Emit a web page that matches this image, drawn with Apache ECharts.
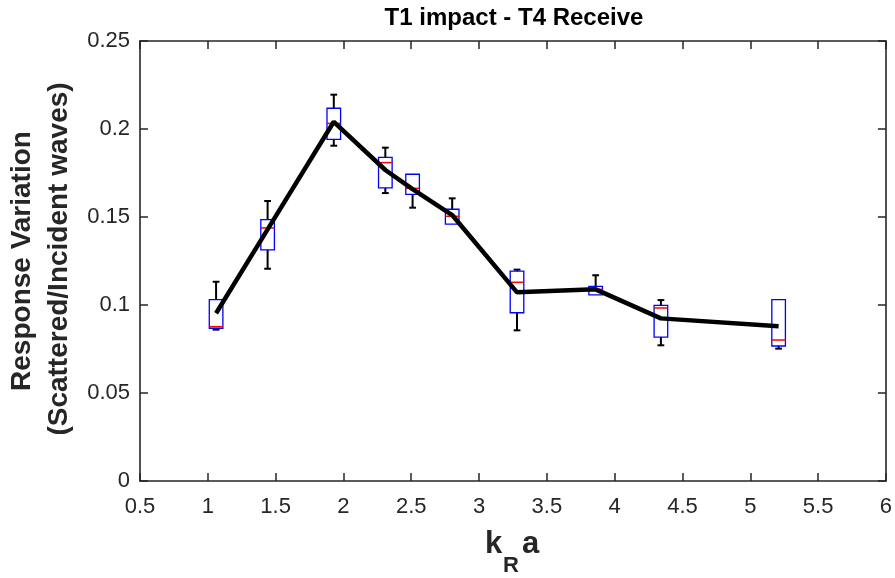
<!DOCTYPE html>
<html>
<head>
<meta charset="utf-8">
<script src="https://cdn.jsdelivr.net/npm/echarts@6/dist/echarts.min.js"></script>
<style>html,body{margin:0;padding:0;background:#fff}#c{width:895px;height:578px}</style>
</head>
<body>
<div id="c"></div>
<script>
// k_R a positions of each box
const kra       = [1.061, 1.441, 1.929, 2.309, 2.510, 2.802, 3.280, 3.860, 4.341, 5.209];
const whiskLow  = [0.0860, 0.1206, 0.1905, 0.1636, 0.1553, 0.1459, 0.0856, 0.1057, 0.0771, 0.0752];
const q1        = [0.0868, 0.1313, 0.1941, 0.1665, 0.1629, 0.1459, 0.0956, 0.1057, 0.0818, 0.0767];
const median    = [0.0877, 0.1438, 0.2032, 0.1809, 0.1663, 0.1504, 0.1129, 0.1089, 0.0983, 0.0801];
const q3        = [0.1030, 0.1485, 0.2118, 0.1839, 0.1743, 0.1544, 0.1192, 0.1106, 0.0998, 0.1030];
const whiskHigh = [0.1132, 0.1591, 0.2195, 0.1894, 0.1743, 0.1606, 0.1201, 0.1169, 0.1028, 0.1030];
const meanLine  = [0.0953, 0.1430, 0.2041, 0.1767, 0.1658, 0.1511, 0.1072, 0.1089, 0.0924, 0.0879];

const xTicks = {min: 0.5, max: 6, interval: 0.5};
const yTicks = {min: 0, max: 0.25, interval: 0.05};

const FONT = "'Liberation Sans', Arial, Helvetica, sans-serif";
const AX = '#262626';

const boxData = kra.map((x, i) => [x, whiskLow[i], q1[i], median[i], q3[i], whiskHigh[i]]);
const lineData = kra.map((x, i) => [x, meanLine[i]]);

function renderBox(params, api) {
  const x = api.value(0);
  const lo = api.coord([x, api.value(1)]);
  const b1 = api.coord([x, api.value(2)]);
  const md = api.coord([x, api.value(3)]);
  const b3 = api.coord([x, api.value(4)]);
  const hi = api.coord([x, api.value(5)]);
  const cx = b1[0];
  const hw = 6.8, cw = 3.4;
  const wStyle = {stroke: '#000', lineWidth: 2};
  const ch = [];
  if (hi[1] < b3[1] - 0.5) {
    ch.push({type: 'line', shape: {x1: cx, y1: b3[1], x2: cx, y2: hi[1]}, style: wStyle});
    ch.push({type: 'line', shape: {x1: cx - cw, y1: hi[1], x2: cx + cw, y2: hi[1]}, style: wStyle});
  }
  if (lo[1] > b1[1] + 0.5) {
    ch.push({type: 'line', shape: {x1: cx, y1: b1[1], x2: cx, y2: lo[1]}, style: wStyle});
    ch.push({type: 'line', shape: {x1: cx - cw, y1: lo[1], x2: cx + cw, y2: lo[1]}, style: wStyle});
  }
  ch.push({type: 'rect', shape: {x: cx - hw, y: b3[1], width: 2 * hw, height: b1[1] - b3[1]},
           style: {fill: 'none', stroke: '#0000ff', lineWidth: 1.3}});
  ch.push({type: 'line', shape: {x1: cx - hw, y1: md[1], x2: cx + hw, y2: md[1]},
           style: {stroke: '#ff0000', lineWidth: 1.5}});
  return {type: 'group', children: ch};
}

const axisCommon = {
  axisLine: {show: true, onZero: false, lineStyle: {color: AX, width: 1.6}},
  axisTick: {show: true, inside: true, length: 8, lineStyle: {color: AX, width: 1.5}},
  splitLine: {show: false}
};

const chart = echarts.init(document.getElementById('c'), null, {renderer: 'canvas'});
chart.setOption({
  animation: false,
  backgroundColor: '#fff',
  grid: {left: 140, right: 4, top: 41, bottom: 97, containLabel: false},
  xAxis: [
    Object.assign({type: 'value', position: 'bottom', min: xTicks.min, max: xTicks.max, interval: xTicks.interval,
      axisLabel: {color: AX, fontSize: 22, fontFamily: FONT, margin: 15}}, axisCommon),
    Object.assign({type: 'value', position: 'top', min: xTicks.min, max: xTicks.max, interval: xTicks.interval,
      axisLabel: {show: false}}, axisCommon)
  ],
  yAxis: [
    Object.assign({type: 'value', position: 'left', min: yTicks.min, max: yTicks.max, interval: yTicks.interval,
      axisLabel: {color: AX, fontSize: 22, fontFamily: FONT, margin: 10}}, axisCommon),
    Object.assign({type: 'value', position: 'right', min: yTicks.min, max: yTicks.max, interval: yTicks.interval,
      axisLabel: {show: false}}, axisCommon)
  ],
  graphic: [
    {type: 'text', x: 514, y: 18,
     style: {text: 'T1 impact - T4 Receive', font: 'bold 24px ' + FONT, fill: '#000',
             textAlign: 'center', textVerticalAlign: 'middle'}},
    {type: 'text', x: 22, y: 261, rotation: Math.PI / 2,
     style: {text: 'Response Variation', font: 'bold 28px ' + FONT, fill: AX,
             textAlign: 'center', textVerticalAlign: 'middle'}},
    {type: 'text', x: 59, y: 259, rotation: Math.PI / 2,
     style: {text: '(Scattered/Incident waves)', font: 'bold 28px ' + FONT, fill: AX,
             textAlign: 'center', textVerticalAlign: 'middle'}},
    {type: 'text', x: 485, y: 544,
     style: {text: 'k', font: 'bold 31px ' + FONT, fill: AX, textAlign: 'left', textVerticalAlign: 'middle'}},
    {type: 'text', x: 503, y: 566,
     style: {text: 'R', font: 'bold 22px ' + FONT, fill: AX, textAlign: 'left', textVerticalAlign: 'middle'}},
    {type: 'text', x: 522, y: 544,
     style: {text: 'a', font: 'bold 31px ' + FONT, fill: AX, textAlign: 'left', textVerticalAlign: 'middle'}}
  ],
  series: [
    {type: 'custom', xAxisIndex: 0, yAxisIndex: 0, renderItem: renderBox, data: boxData, z: 2,
     encode: {x: 0, y: [1, 2, 3, 4, 5]}},
    {type: 'line', xAxisIndex: 0, yAxisIndex: 0, data: lineData, symbol: 'none', z: 3,
     lineStyle: {color: '#000', width: 4.5}}
  ]
});
</script>
</body>
</html>
